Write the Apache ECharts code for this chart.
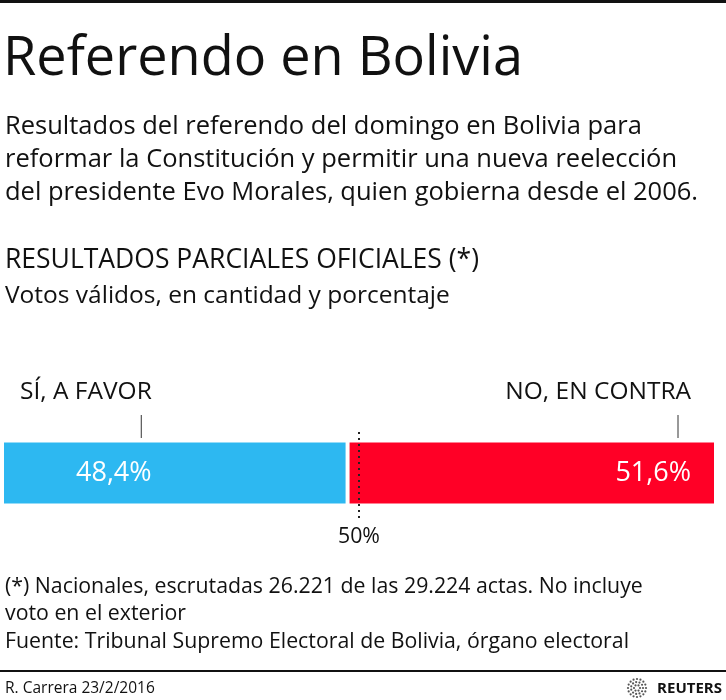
<!DOCTYPE html>
<html>
<head>
<meta charset="utf-8">
<title>Referendo en Bolivia</title>
<script src="https://cdn.jsdelivr.net/npm/echarts@6/dist/echarts.min.js"></script>
<style>
  html, body { margin: 0; padding: 0; background: #fff; }
  #main { width: 726px; height: 700px; }
</style>
</head>
<body>
<div id="main"></div>
<script>
// datos del referendo (votos válidos, %)
var categories = ['SÍ, A FAVOR', 'NO, EN CONTRA']
var values = [48.4, 51.6]
var colors = ['#2db8f1', '#ff0026']
var threshold = 50

var FONT = '"Open Sans", sans-serif'

function pct(v) {
  return String(v).replace('.', ',') + '%'
}

// inicio y fin acumulado de cada tramo
var starts = []
var acc = 0
values.forEach(function (v) {
  starts.push(acc)
  acc += v
})

var myChart = echarts.init(document.getElementById('main'))

function txt(x, y, text, size, extra) {
  var style = {
    x: x,
    y: y,
    text: text,
    fill: '#111',
    font: (extra && extra.weight ? extra.weight + ' ' : '') + size + 'px ' + FONT,
    verticalAlign: 'middle',
    align: (extra && extra.align) || 'left'
  }
  return { type: 'text', silent: true, style: style }
}

// logo: anillos de puntos
var logoDots = []
;[[9, 16], [6, 11], [3, 6]].forEach(function (ring) {
  for (var i = 0; i < ring[1]; i++) {
    var a = (i / ring[1]) * Math.PI * 2
    logoDots.push({
      type: 'circle',
      silent: true,
      shape: { cx: 637 + ring[0] * Math.cos(a), cy: 688 + ring[0] * Math.sin(a), r: 1.1 },
      style: { fill: '#555' }
    })
  }
})

var option = {
  animation: false,
  backgroundColor: '#fff',
  grid: { left: 2, right: 10, top: 428, height: 90 },
  xAxis: { type: 'value', min: 0, max: 100, show: false },
  yAxis: { type: 'category', data: ['votos'], show: false },
  graphic: [
    { type: 'rect', silent: true, shape: { x: 0, y: 0, width: 726, height: 3 }, style: { fill: '#111' } },
    txt(3, 60, 'Referendo en Bolivia', 54),
    txt(5, 127, 'Resultados del referendo del domingo en Bolivia para', 25.5),
    txt(5, 160, 'reformar la Constitución y permitir una nueva reelección', 25.5),
    txt(5, 193, 'del presidente Evo Morales, quien gobierna desde el 2006.', 25.5),
    txt(5, 260, 'RESULTADOS PARCIALES OFICIALES (*)', 26.5),
    txt(5, 296, 'Votos válidos, en cantidad y porcentaje', 24.5),
    txt(5, 587, '(*) Nacionales, escrutadas 26.221 de las 29.224 actas. No incluye', 21.3),
    txt(5, 614, 'voto en el exterior', 21.3),
    txt(5, 642, 'Fuente: Tribunal Supremo Electoral de Bolivia, órgano electoral', 21.3),
    { type: 'rect', silent: true, shape: { x: 0, y: 670, width: 726, height: 2 }, style: { fill: '#111' } },
    txt(5, 689, 'R. Carrera 23/2/2016', 15.5),
    txt(722, 689, 'REUTERS', 15, { weight: 'bold', align: 'right' })
  ].concat(logoDots),
  series: [
    {
      name: categories[0],
      type: 'bar',
      stack: 'total',
      barWidth: 65,
      data: [values[0]],
      itemStyle: { color: colors[0], borderColor: '#fff', borderWidth: 2 },
      label: {
        show: true,
        position: [74, '50%'],
        verticalAlign: 'middle',
        color: '#fff',
        fontFamily: FONT,
        fontSize: 27,
        formatter: function (p) { return pct(p.value) }
      },
      markLine: {
        silent: true,
        symbol: 'none',
        lineStyle: { color: '#222', type: [2, 4], width: 2 },
        label: {
          show: true,
          position: 'start',
          distance: 8,
          color: '#111',
          fontFamily: FONT,
          fontSize: 21.3,
          formatter: function () { return threshold + '%' }
        },
        data: [{ xAxis: threshold }]
      }
    },
    {
      name: categories[1],
      type: 'bar',
      stack: 'total',
      barWidth: 65,
      data: [values[1]],
      itemStyle: { color: colors[1], borderColor: '#fff', borderWidth: 2 },
      label: {
        show: true,
        position: 'insideRight',
        distance: 25,
        color: '#fff',
        fontFamily: FONT,
        fontSize: 27,
        formatter: function (p) { return pct(p.value) }
      }
    },
    {
      // marcas y nombres encima de cada tramo
      type: 'custom',
      silent: true,
      data: categories.map(function (c, i) { return [starts[i], starts[i] + values[i], i] }),
      renderItem: function (params, api) {
        var i = api.value(2)
        var a = api.coord([api.value(0), 0])
        var b = api.coord([api.value(1), 0])
        var top = a[1] - 32
        var first = i === 0
        var tickX = first ? a[0] + (b[0] - a[0]) * 0.403 : b[0] - 38
        return {
          type: 'group',
          children: [
            {
              type: 'line',
              shape: { x1: tickX, y1: top - 26, x2: tickX, y2: top - 3 },
              style: { stroke: '#333', lineWidth: 1 }
            },
            {
              type: 'text',
              style: {
                x: first ? a[0] + 18 : b[0] - 25,
                y: top - 49,
                text: categories[i],
                fill: '#111',
                font: '24.5px ' + FONT,
                align: first ? 'left' : 'right',
                verticalAlign: 'middle'
              }
            }
          ]
        }
      }
    }
  ]
}

myChart.setOption(option)
</script>
</body>
</html>
